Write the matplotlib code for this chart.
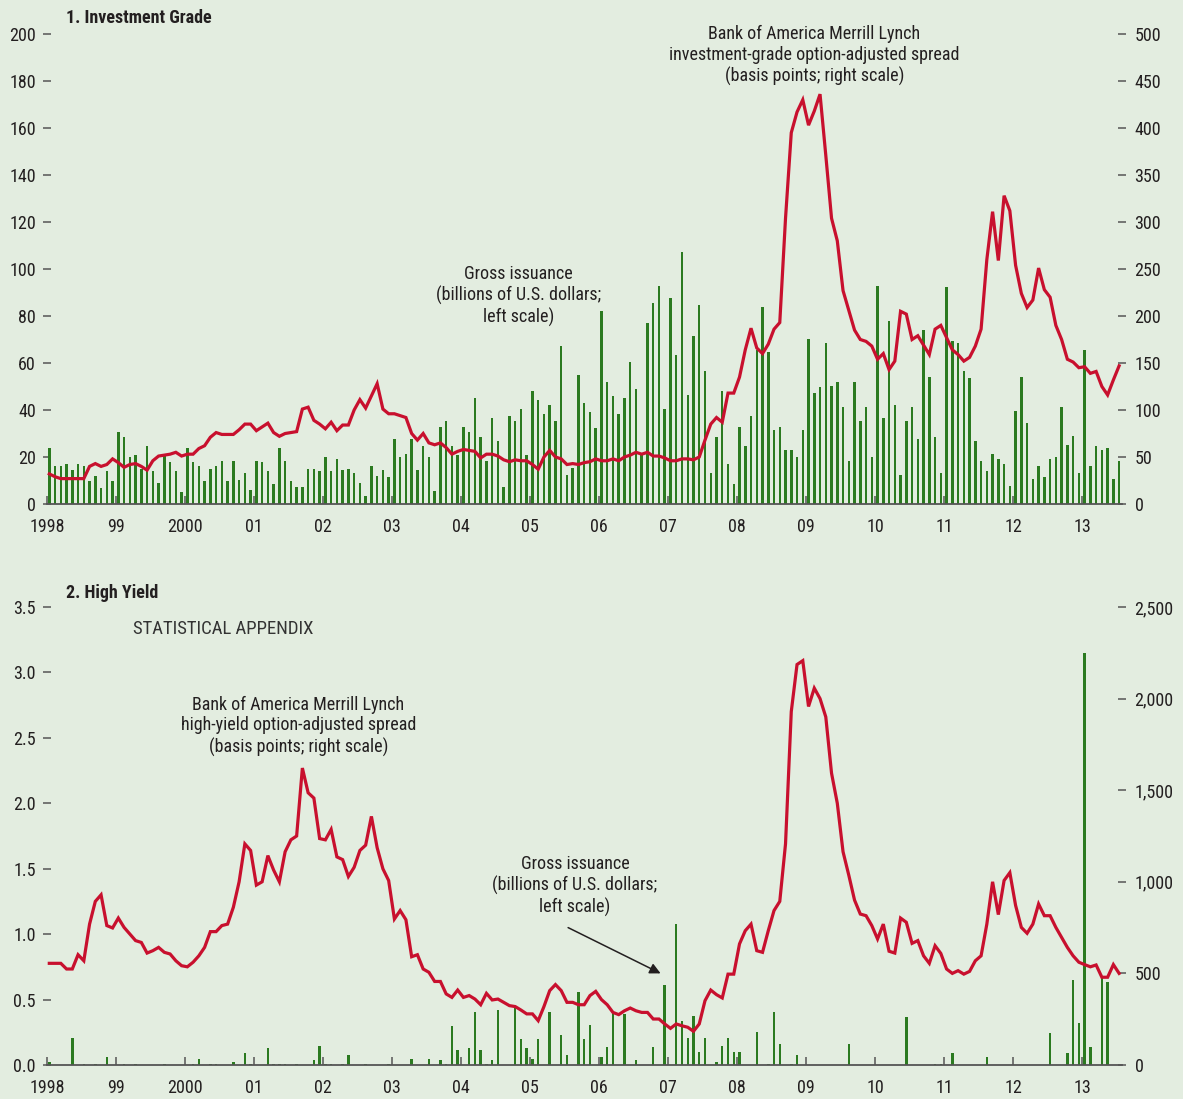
import numpy as np
import matplotlib.pyplot as plt
from matplotlib import font_manager

# pick a condensed sans if one is installed, else plain Liberation Sans
names = {f.name for f in font_manager.fontManager.ttflist}
FONT = next((n for n in ['Liberation Sans Narrow', 'Roboto Condensed', 'Open Sans Condensed']
             if n in names), 'Liberation Sans')
plt.rcParams['font.family'] = [FONT, 'DejaVu Sans']

BG = '#e3ede0'
GREEN = '#2b7a20'
RED = '#c8102e'
TXT = '#231f20'
GREY = '#555555'

year_ticks = list(range(1998, 2014))
year_labels = ['1998', '99', '2000', '01', '02', '03', '04', '05', '06',
               '07', '08', '09', '10', '11', '12', '13']

# ---- 1. Investment grade (monthly, Jan 1998 - Jul 2013) ----
# gross issuance, billions of U.S. dollars (left scale)
ig_issuance = [
    23.7, 16, 16, 16.9, 14.3, 16.9, 16, 10, 12.1, 7, 13.9, 10,
    30.6, 28.4, 19.9, 20.7, 15.1, 24.6, 13.9, 9.1, 20.3, 17.7, 13.9, 5.3,
    23.7, 17.7, 16, 10, 15.1, 16, 18.1, 10, 18.1, 10.4, 13, 6.1,
    18.1, 17.7, 13.9, 8.3, 23.7, 18.1, 10, 7.4, 7.4, 15.1, 15.1, 13.9,
    19.9, 13.9, 19, 14.3, 15.1, 13, 9.1, 3.6, 16, 12.1, 14.3, 11.3,
    27.7, 20, 21.3, 27.7, 14.5, 24.7, 20, 5.5, 32.8, 35.3, 24.7, 20.9,
    32.8, 30.6, 45.1, 28.5, 18.3, 36.6, 26.8, 7.2, 37.4, 35.3, 40.4, 20.9,
    48.1, 44.3, 38.3, 42.1, 35.3, 67.2, 12.3, 15.3, 54.9, 43, 39.1, 32.3,
    82.1, 51.8, 46, 38.3, 45.1, 60.4, 48.9, 20.9, 77, 85.5, 92.8, 40.4,
    87.7, 63.4, 107.2, 46.4, 71.5, 84.7, 56.6, 13.2, 28.5, 48.1, 17, 8.5,
    32.8, 24.7, 37.4, 65.5, 83.8, 64.7, 31.5, 32.8, 23, 23, 20, 31.5,
    70.2, 47.2, 49.8, 68.5, 50.2, 51.9, 41.3, 18.3, 51.9, 35.3, 41.3, 20,
    92.8, 36.6, 77.9, 42.1, 12.3, 35.3, 41.3, 27.7, 74, 54, 28.5, 13.2,
    92.3, 69.4, 68.5, 56.6, 53.6, 26.8, 18.3, 14, 21.3, 19.1, 17, 7.7,
    39.6, 54, 34.5, 10.6, 16.2, 11.5, 19.1, 20, 41.3, 25.1, 28.9, 13.2,
    65.5, 16.2, 24.7, 23, 23.8, 10.6, 18.3,
]
# option-adjusted spread, basis points (right scale)
ig_spread = [
    32, 29, 27, 27, 27, 27, 27, 40, 43, 40, 42, 48,
    44, 39, 42, 43, 40, 36, 46, 51, 52, 53, 55, 51,
    53, 53, 59, 62, 71, 76, 74, 74, 74, 79, 85, 85,
    78, 82, 86, 76, 72, 75, 76, 77, 101, 103, 89, 85,
    80, 87, 78, 84, 84, 100, 111, 102, 115, 128, 101, 96,
    96, 94, 92, 75, 68, 75, 65, 63, 65, 60, 53, 56,
    58, 57, 56, 49, 53, 53, 51, 47, 45, 47, 46, 46,
    42, 37, 50, 57, 50, 48, 42, 43, 42, 44, 45, 48,
    46, 46, 48, 46, 50, 52, 55, 53, 55, 51, 51, 49,
    46, 46, 48, 48, 47, 50, 68, 85, 92, 87, 118, 118,
    135, 164, 187, 166, 160, 170, 186, 193, 304, 395, 417, 430,
    403, 418, 436, 371, 304, 280, 227, 206, 185, 175, 173, 168,
    154, 160, 143, 152, 205, 202, 175, 179, 169, 159, 186, 190,
    177, 164, 159, 152, 156, 168, 186, 260, 311, 259, 328, 312,
    254, 224, 209, 217, 251, 228, 220, 190, 175, 154, 151, 145,
    146, 139, 141, 125, 116, 132, 147,
]

# ---- 2. High yield ----
# gross issuance, billions of U.S. dollars (left scale)
hy_issuance = [
    0.025, 0, 0, 0, 0.204, 0, 0.01, 0, 0.01, 0, 0.064, 0,
    0, 0.01, 0, 0.01, 0, 0, 0, 0, 0.01, 0, 0, 0,
    0, 0.01, 0.048, 0, 0.01, 0.01, 0, 0, 0.025, 0, 0.094, 0.01,
    0, 0, 0.132, 0.01, 0.01, 0.01, 0, 0.01, 0, 0, 0.038, 0.145,
    0.01, 0.01, 0, 0.01, 0.079, 0, 0, 0.01, 0, 0, 0, 0.01,
    0, 0, 0, 0.048, 0, 0, 0.048, 0, 0.038, 0.01, 0.30, 0.117,
    0, 0.132, 0.408, 0.117, 0.01, 0.038, 0.423, 0, 0, 0.44, 0.201, 0.132,
    0.048, 0.201, 0, 0.408, 0, 0.232, 0.079, 0, 0.56, 0.201, 0.308, 0,
    0.064, 0.135, 0.402, 0, 0.39, 0, 0.038, 0, 0, 0.135, 0, 0.614,
    0, 1.077, 0.339, 0.204, 0.377, 0.097, 0.204, 0, 0.02, 0.148, 0.204, 0.097,
    0.097, 0, 0, 0.255, 0, 0.01, 0.408, 0.16, 0, 0.01, 0.079, 0,
    0, 0, 0, 0, 0, 0, 0, 0.16, 0, 0, 0, 0,
    0, 0, 0, 0, 0, 0.369, 0, 0, 0, 0, 0.01, 0.01,
    0, 0.092, 0, 0, 0, 0, 0, 0.064, 0, 0, 0, 0,
    0, 0, 0, 0, 0, 0, 0.247, 0, 0, 0.092, 0.652, 0.323,
    3.15, 0.135, 0, 0.67, 0.637, 0, 0,
]
# option-adjusted spread, basis points (right scale)
hy_spread = [
    555, 555, 555, 524, 524, 602, 569, 769, 893, 929, 761, 748,
    802, 751, 715, 679, 669, 611, 624, 642, 615, 606, 569, 542,
    536, 561, 596, 642, 728, 728, 761, 769, 861, 1000, 1207, 1171,
    982, 1000, 1143, 1064, 1000, 1164, 1229, 1250, 1621, 1486, 1457, 1236,
    1229, 1286, 1136, 1121, 1029, 1079, 1171, 1200, 1357, 1186, 1071, 1007,
    797, 843, 793, 591, 602, 524, 506, 456, 456, 388, 369, 409,
    369, 379, 360, 329, 391, 355, 360, 342, 324, 319, 300, 279,
    279, 242, 319, 406, 439, 406, 342, 342, 329, 329, 379, 402,
    357, 329, 287, 275, 296, 311, 296, 287, 287, 251, 251, 224,
    200, 224, 214, 206, 184, 224, 351, 409, 384, 366, 496, 496,
    661, 733, 769, 624, 615, 733, 843, 893, 1207, 1929, 2186, 2207,
    1957, 2057, 2000, 1900, 1593, 1429, 1164, 1036, 900, 824, 815, 761,
    688, 769, 621, 611, 802, 779, 664, 679, 596, 555, 651, 609,
    524, 500, 515, 496, 511, 569, 596, 769, 1000, 821, 1007, 1050,
    871, 751, 719, 769, 879, 815, 815, 751, 696, 642, 596, 561,
    548, 536, 546, 479, 479, 548, 500,
]

months = 1998 + (np.arange(len(ig_spread)) + 0.4) / 12

W, H = 1183, 1099
fig = plt.figure(figsize=(W / 100, H / 100), dpi=100, facecolor=BG)
ax_ig = fig.add_axes([47 / W, (H - 504) / H, 1075 / W, 470 / H])
ax_hy = fig.add_axes([47 / W, (H - 1065) / H, 1075 / W, 458 / H])


def style(ax, yl, yticks, ylabels, yr, rticks, rlabels):
    ax.set_facecolor(BG)
    ax.set_xlim(1998, 2013.575)
    ax.set_ylim(*yl)
    for s in ['top', 'left', 'right']:
        ax.spines[s].set_visible(False)
    ax.spines['bottom'].set_color(GREY)
    ax.spines['bottom'].set_linewidth(1.3)
    ax.set_xticks(year_ticks)
    ax.set_xticklabels(year_labels)
    ax.tick_params(axis='x', direction='in', length=6, width=1.1, color=GREY,
                   pad=10, labelsize=13, labelcolor=TXT)
    ax.set_yticks(yticks)
    ax.set_yticklabels(ylabels)
    ax.tick_params(axis='y', direction='inout', length=6, width=1.1, color=GREY,
                   pad=5, labelsize=13, labelcolor=TXT)
    axr = ax.twinx()
    axr.set_ylim(*yr)
    for s in axr.spines.values():
        s.set_visible(False)
    axr.set_yticks(rticks)
    axr.set_yticklabels(rlabels)
    axr.tick_params(axis='y', direction='inout', length=6, width=1.1, color=GREY,
                    pad=6, labelsize=13, labelcolor=TXT)
    return axr


# panel 1
ig_r = style(ax_ig, (0, 200), range(0, 201, 20), [str(v) for v in range(0, 201, 20)],
             (0, 500), range(0, 501, 50), [str(v) for v in range(0, 501, 50)])
ax_ig.bar(months, ig_issuance, width=0.036, color=GREEN, zorder=2)
ig_r.plot(months, ig_spread, color=RED, lw=2.3, solid_joinstyle='miter')

# panel 2
hy_left = [0, 0.5, 1.0, 1.5, 2.0, 2.5, 3.0, 3.5]
hy_right = [0, 500, 1000, 1500, 2000, 2500]
hy_r = style(ax_hy, (0, 3.5), hy_left, [f'{v:.1f}' for v in hy_left],
             (0, 2500), hy_right, [f'{v:,}' for v in hy_right])
ax_hy.bar(months, hy_issuance, width=0.036, color=GREEN, zorder=2)
hy_r.plot(months, hy_spread, color=RED, lw=2.3, solid_joinstyle='miter')

# titles and notes
fig.text(66 / W, 1 - 18 / H, '1. Investment Grade', fontsize=13, fontweight='bold',
         color=TXT, va='center', ha='left')
fig.text(66 / W, 1 - 593 / H, '2. High Yield', fontsize=13, fontweight='bold',
         color=TXT, va='center', ha='left')

note = dict(fontsize=13, color=TXT, ha='center', va='center', linespacing=1.2)
ax_ig.text(2009.12, 191, 'Bank of America Merrill Lynch\n'
           'investment-grade option-adjusted spread\n(basis points; right scale)', **note)
ax_ig.text(2004.83, 88.5, 'Gross issuance\n(billions of U.S. dollars;\nleft scale)', **note)
ax_hy.text(2001.64, 2.59, 'Bank of America Merrill Lynch\n'
           'high-yield option-adjusted spread\n(basis points; right scale)', **note)
ax_hy.text(2005.65, 1.37, 'Gross issuance\n(billions of U.S. dollars;\nleft scale)', **note)
ax_hy.text(2000.55, 3.33, 'STATISTICAL APPENDIX', fontsize=13.5, color='#333333',
           ha='center', va='center')
ax_hy.annotate('', xy=(2006.89, 0.70), xytext=(2005.55, 1.05),
               arrowprops=dict(arrowstyle='-|>', color=TXT, lw=1.1,
                               mutation_scale=16, shrinkA=0, shrinkB=0))

fig.savefig('out.png', dpi=100, facecolor=BG)
